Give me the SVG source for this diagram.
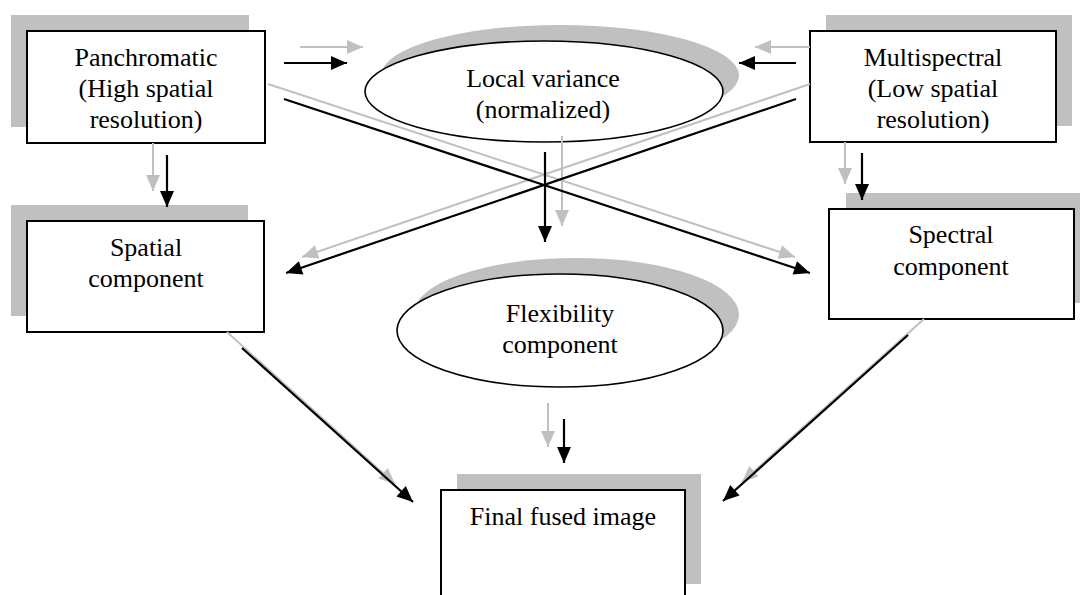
<svg xmlns="http://www.w3.org/2000/svg" width="1080" height="595" viewBox="0 0 1080 595">
<style>
.sh{fill:#c0c0c0;stroke:none}
.box{fill:#fff;stroke:#000;stroke-width:2}
.ell{fill:#fff;stroke:#000;stroke-width:1.6}
.t{font-family:"Liberation Serif","Times New Roman",serif;font-size:26px;fill:#000;text-anchor:middle}
.k{stroke:#000;stroke-width:2.2;fill:none;marker-end:url(#ak)}
.g{stroke:#c0c0c0;stroke-width:2;fill:none;marker-end:url(#ag)}
</style>
<defs>
<marker id="ak" markerUnits="userSpaceOnUse" markerWidth="17" markerHeight="15" refX="16" refY="7" orient="auto" overflow="visible"><path d="M0,0 L16,7 L0,14 Z" fill="#000"/></marker>
<marker id="ag" markerUnits="userSpaceOnUse" markerWidth="17" markerHeight="15" refX="16" refY="7" orient="auto" overflow="visible"><path d="M0,0 L16,7 L0,14 Z" fill="#c0c0c0"/></marker>
</defs>
<rect width="1080" height="595" fill="#fff"/>
<g id="panchromatic">
<rect class="sh" x="11" y="15" width="238" height="112"/>
<rect class="box" x="27" y="31" width="238" height="112"/>
<text class="t" x="146" y="66">Panchromatic</text>
<text class="t" x="146" y="97">(High spatial</text>
<text class="t" x="146" y="128">resolution)</text>
</g>
<g id="multispectral">
<rect class="sh" x="826" y="15" width="246" height="111"/>
<rect class="box" x="810" y="31" width="246" height="111"/>
<text class="t" x="933" y="66">Multispectral</text>
<text class="t" x="933" y="97">(Low spatial</text>
<text class="t" x="933" y="128">resolution)</text>
</g>
<g id="local-variance">
<ellipse class="sh" cx="560" cy="75.5" rx="179" ry="50.5"/>
<ellipse class="ell" cx="544" cy="91.5" rx="179" ry="50.5"/>
<text class="t" x="543" y="87">Local variance</text>
<text class="t" x="543" y="118">(normalized)</text>
</g>
<g id="spatial">
<rect class="sh" x="11" y="205" width="237" height="111"/>
<rect class="box" x="27" y="221" width="237" height="111"/>
<text class="t" x="146" y="256">Spatial</text>
<text class="t" x="146" y="287">component</text>
</g>
<g id="spectral">
<rect class="sh" x="846" y="193" width="245" height="110"/>
<rect class="box" x="829" y="209" width="245" height="110"/>
<text class="t" x="951" y="243">Spectral</text>
<text class="t" x="951" y="275">component</text>
</g>
<g id="flexibility">
<ellipse class="sh" cx="576" cy="314.5" rx="163" ry="56.5"/>
<ellipse class="ell" cx="560" cy="330.5" rx="163" ry="56.5"/>
<text class="t" x="560" y="322">Flexibility</text>
<text class="t" x="560" y="353">component</text>
</g>
<g id="final">
<rect class="sh" x="457" y="474" width="244" height="110"/>
<rect class="box" x="441" y="490" width="244" height="112"/>
<text class="t" x="563" y="525">Final fused image</text>
</g>
<g id="connectors">
<line class="g" x1="300" y1="47" x2="363" y2="47"/>
<line class="g" x1="810" y1="47" x2="755" y2="47"/>
<line class="g" x1="268" y1="84" x2="795" y2="257"/>
<line class="g" x1="810" y1="84" x2="302" y2="257"/>
<line class="g" x1="153" y1="143" x2="153" y2="191"/>
<line class="g" x1="845" y1="142" x2="845" y2="184"/>
<line class="g" x1="562" y1="136" x2="562" y2="226"/>
<line class="g" x1="548" y1="403" x2="548" y2="447"/>
<line class="g" x1="227" y1="332" x2="395" y2="484"/>
<line class="g" x1="924" y1="319" x2="742" y2="482"/>
<line class="k" x1="284" y1="63" x2="347" y2="63"/>
<line class="k" x1="796" y1="63" x2="739" y2="63"/>
<line class="k" x1="284" y1="99" x2="810" y2="273"/>
<line class="k" x1="796" y1="99" x2="286" y2="273"/>
<line class="k" x1="167" y1="155" x2="167" y2="207"/>
<line class="k" x1="862" y1="153" x2="862" y2="200"/>
<line class="k" x1="545" y1="152" x2="545" y2="242"/>
<line class="k" x1="564" y1="419" x2="564" y2="463"/>
<line class="k" x1="242" y1="348" x2="413" y2="502"/>
<line class="k" x1="908" y1="335" x2="723" y2="501"/>
</g>
</svg>
